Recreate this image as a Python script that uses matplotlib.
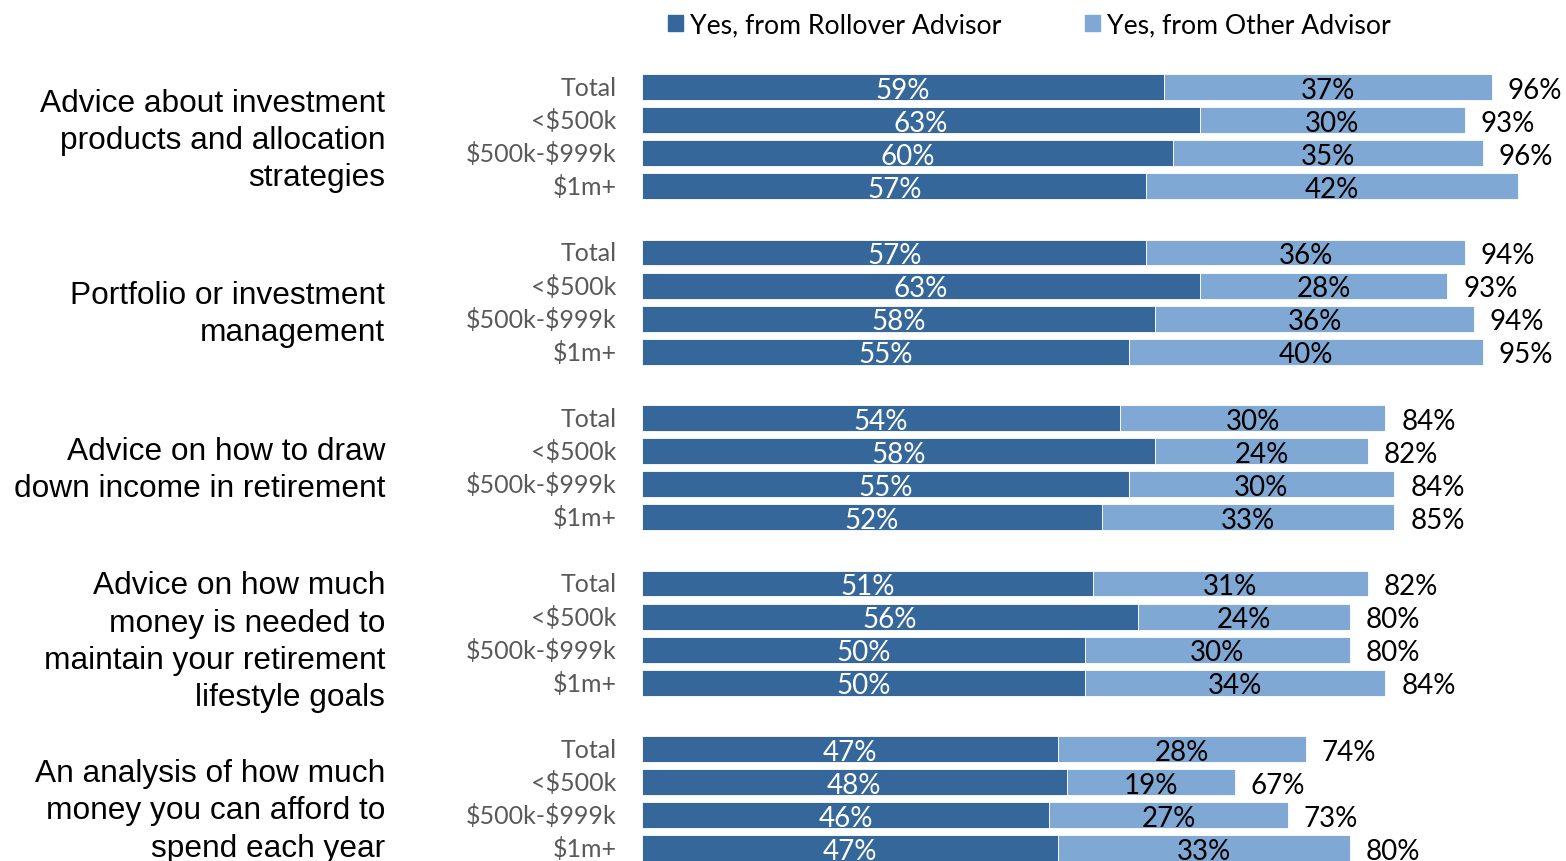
import matplotlib
matplotlib.use("Agg")
import matplotlib.pyplot as plt
from matplotlib.patches import Rectangle

plt.rcParams["text.parse_math"] = False

# Data
questions = [
    "Advice about investment\nproducts and allocation\nstrategies",
    "Portfolio or investment\nmanagement",
    "Advice on how to draw\ndown income in retirement",
    "Advice on how much\nmoney is needed to\nmaintain your retirement\nlifestyle goals",
    "An analysis of how much\nmoney you can afford to\nspend each year",
]
segments = ["Total", "<$500k", "$500k-$999k", "$1m+"]
rollover = [
    [59, 63, 60, 57],
    [57, 63, 58, 55],
    [54, 58, 55, 52],
    [51, 56, 50, 50],
    [47, 48, 46, 47],
]
other = [
    [37, 30, 35, 42],
    [36, 28, 36, 40],
    [30, 24, 30, 33],
    [31, 24, 30, 34],
    [28, 19, 27, 33],
]
totals = [
    [96, 93, 96, None],
    [94, 93, 94, 95],
    [84, 82, 84, 85],
    [82, 80, 80, 84],
    [74, 67, 73, 80],
]
legend_labels = ["Yes, from Rollover Advisor", "Yes, from Other Advisor"]

DARK = "#35679A"
LIGHT = "#7FA9D4"
SANS = ["Lato", "DejaVu Sans"]
ARIAL = ["Liberation Sans", "DejaVu Sans"]

# small vertical nudges (in rows) for the question labels
label_shift = [0.1, 0.35, 0.05, 0.25, 0.35]

W, H = 1566, 862
fig = plt.figure(figsize=(W / 100, H / 100), dpi=100)

# axes placed in pixel terms: x 642..1527 for 0..100, rows 33.1 px apart
row_px = 33.1
top_px = 88 - 0.5 * row_px
bot_px = 88 + 23.5 * row_px
ax = fig.add_axes([642 / W, 1 - bot_px / H, 885 / W, (bot_px - top_px) / H])
ax.set_xlim(0, 100)
ax.set_ylim(23.5, -0.5)
ax.axis("off")

bar_h = 0.78
for g in range(len(questions)):
    ys = [g * 5 + r for r in range(len(segments))]
    ax.barh(ys, rollover[g], height=bar_h, color=DARK, edgecolor="white", linewidth=0.6)
    ax.barh(ys, other[g], left=rollover[g], height=bar_h, color=LIGHT,
            edgecolor="white", linewidth=0.6)
    for r, y in enumerate(ys):
        d, o, t = rollover[g][r], other[g][r], totals[g][r]
        ax.text(d / 2, y + 0.08, f"{d}%", ha="center", va="center", color="white",
                fontsize=20, family=SANS)
        ax.text(d + o / 2, y + 0.08, f"{o}%", ha="center", va="center", color="black",
                fontsize=20, family=SANS)
        if t is not None:
            ax.text(d + o + 1.8, y + 0.08, f"{t}%", ha="left", va="center",
                    color="black", fontsize=20, family=SANS)
        ax.text(-2.9, y, segments[r], ha="right", va="center", color="#595959",
                fontsize=18, family=SANS, clip_on=False)
    ax.text(-29.0, g * 5 + 1.5 + label_shift[g], questions[g], ha="right", va="center",
            color="black", fontsize=22.8, family=ARIAL, linespacing=1.32, clip_on=False)

# legend drawn as squares + text in figure pixels
for i, (lab, col) in enumerate(zip(legend_labels, [DARK, LIGHT])):
    x0 = [668, 1085][i]
    fig.patches.append(Rectangle((x0 / W, 1 - 32 / H), 15 / W, 16 / H,
                                 transform=fig.transFigure, color=col))
    fig.text((x0 + 22) / W, 1 - 26 / H, lab, ha="left", va="center",
             fontsize=19.2, family=SANS, color="black")

fig.savefig("out.png", dpi=100)
